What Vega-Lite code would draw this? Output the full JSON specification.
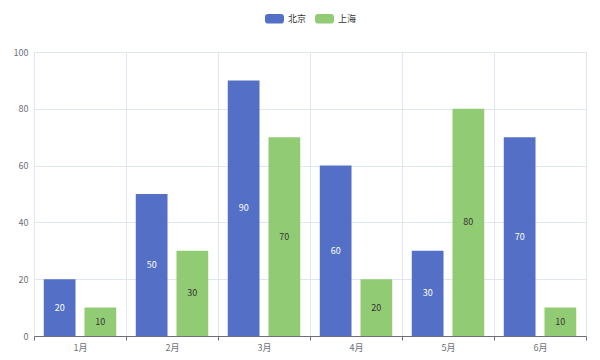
{
  "$schema": "https://vega.github.io/schema/vega-lite/v6.json",
  "width": 552,
  "height": 284,
  "autosize": {"type": "none"},
  "padding": {"left": 34, "top": 52, "right": 14, "bottom": 24},
  "background": "#ffffff",
  "config": {
    "view": {"stroke": "#e0e6f1"},
    "font": "Noto Sans CJK SC"
  },
  "data": {
    "values": [
      {"month": "1月", "city": "北京", "value": 20},
      {"month": "1月", "city": "上海", "value": 10},
      {"month": "2月", "city": "北京", "value": 50},
      {"month": "2月", "city": "上海", "value": 30},
      {"month": "3月", "city": "北京", "value": 90},
      {"month": "3月", "city": "上海", "value": 70},
      {"month": "4月", "city": "北京", "value": 60},
      {"month": "4月", "city": "上海", "value": 20},
      {"month": "5月", "city": "北京", "value": 30},
      {"month": "5月", "city": "上海", "value": 80},
      {"month": "6月", "city": "北京", "value": 70},
      {"month": "6月", "city": "上海", "value": 10}
    ]
  },
  "encoding": {
    "x": {
      "field": "month",
      "type": "nominal",
      "sort": ["1月", "2月", "3月", "4月", "5月", "6月"],
      "scale": {"paddingInner": 0, "paddingOuter": 0},
      "axis": {
        "title": null,
        "labelAngle": 0,
        "tickBand": "extent",
        "grid": true,
        "gridColor": "#e0e6f1",
        "domainColor": "#6e7079",
        "tickColor": "#6e7079",
        "tickSize": 4,
        "labelPadding": 3,
        "labelFontSize": 9,
        "labelColor": "#6e7079"
      }
    },
    "xOffset": {
      "field": "city",
      "type": "nominal",
      "sort": ["北京", "上海"],
      "scale": {"paddingInner": 0.22, "paddingOuter": 0.24}
    }
  },
  "layer": [
    {
      "mark": {"type": "bar"},
      "encoding": {
        "y": {
          "field": "value",
          "type": "quantitative",
          "scale": {"domain": [0, 100]},
          "axis": {
            "title": null,
            "tickCount": 5,
            "grid": true,
            "gridColor": "#e0e6f1",
            "domain": false,
            "ticks": false,
            "labelPadding": 6,
            "labelFontSize": 9,
            "labelColor": "#6e7079"
          }
        },
        "color": {
          "field": "city",
          "type": "nominal",
          "sort": ["北京", "上海"],
          "scale": {"domain": ["北京", "上海"], "range": ["#5470c6", "#91cc75"]},
          "legend": {
            "title": null,
            "orient": "none",
            "direction": "horizontal",
            "legendX": 231,
            "legendY": -43,
            "symbolType": "M-0.7,-0.5 H0.7 A0.3,0.3 0 0 1 1,-0.2 V0.2 A0.3,0.3 0 0 1 0.7,0.5 H-0.7 A0.3,0.3 0 0 1 -1,0.2 V-0.2 A0.3,0.3 0 0 1 -0.7,-0.5 Z",
            "symbolSize": 361,
            "symbolStrokeWidth": 0,
            "symbolOpacity": 1,
            "labelFontSize": 9,
            "labelColor": "#333333",
            "labelOffset": 4,
            "columnPadding": 8
          }
        }
      }
    },
    {
      "mark": {"type": "text", "fontSize": 9, "baseline": "middle", "align": "center"},
      "encoding": {
        "y": {"field": "value", "type": "quantitative", "scale": {"domain": [0, 200]}, "axis": null},
        "text": {"field": "value", "type": "quantitative"},
        "color": {
          "field": "city",
          "type": "nominal",
          "scale": {"domain": ["北京", "上海"], "range": ["#ffffff", "#333333"]},
          "legend": null
        }
      }
    }
  ],
  "resolve": {"scale": {"color": "independent", "y": "independent"}}
}
